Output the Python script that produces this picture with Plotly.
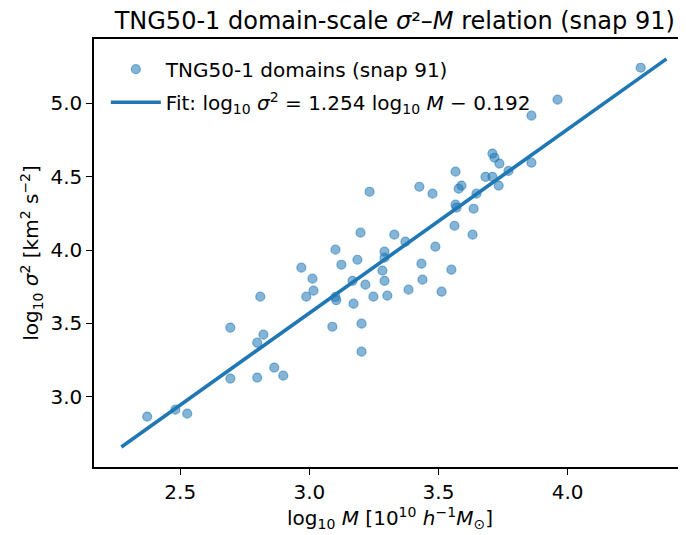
import plotly.graph_objects as go

# ---- data ----
log_mass = [2.372, 2.481, 2.527, 2.694, 2.694, 2.798, 2.798, 2.810, 2.822, 2.864,
            2.899, 2.969, 2.988, 3.012, 3.016, 3.089, 3.101, 3.101, 3.104, 3.124,
            3.167, 3.171, 3.186, 3.198, 3.202, 3.202, 3.217, 3.233, 3.248, 3.283,
            3.291, 3.291, 3.291, 3.302, 3.329, 3.372, 3.384, 3.426, 3.434, 3.438,
            3.477, 3.488, 3.512, 3.550, 3.562, 3.566, 3.566, 3.570, 3.578, 3.589,
            3.632, 3.636, 3.647, 3.682, 3.709, 3.717, 3.709, 3.733, 3.736, 3.771,
            3.860, 3.860, 3.961, 4.283]
log_sigma2 = [2.864, 2.911, 2.884, 3.123, 3.471, 3.130, 3.368, 3.682, 3.423, 3.198,
              3.143, 3.880, 3.682, 3.805, 3.723, 3.477, 4.003, 3.680, 3.658, 3.900,
              3.790, 3.634, 3.934, 4.119, 3.498, 3.307, 3.764, 4.398, 3.682, 3.860,
              3.989, 3.948, 3.790, 3.689, 4.105, 4.057, 3.730, 4.432, 3.907, 3.798,
              4.385, 4.023, 3.716, 3.866, 4.166, 4.535, 4.310, 4.290, 4.419, 4.440,
              4.105, 4.282, 4.385, 4.500, 4.658, 4.630, 4.500, 4.440, 4.590, 4.540,
              4.596, 4.917, 5.026, 5.244]
fit_slope = 1.254
fit_intercept = -0.192
x_ticks = [2.5, 3.0, 3.5, 4.0]
y_ticks = [3.0, 3.5, 4.0, 4.5, 5.0]

BLUE = "#1f77b4"
FONT = "DejaVu Sans, Verdana, sans-serif"
FS = 20

fit_x = [min(log_mass) - 0.1, max(log_mass) + 0.1]
fit_y = [fit_slope * v + fit_intercept for v in fit_x]

fig = go.Figure()
fig.add_trace(go.Scatter(
    x=log_mass, y=log_sigma2, mode="markers",
    name="TNG50-1 domains (snap 91)", legendgroup="a",
    marker=dict(size=9, color="rgba(31,119,180,0.55)",
                line=dict(color="rgba(31,119,180,0.55)", width=1.2)),
))
fig.add_trace(go.Scatter(
    x=fit_x, y=fit_y, mode="lines",
    name="Fit: log<sub>10</sub> <i>σ</i><sup>2</sup> = 1.254 log<sub>10</sub> <i>M</i> − 0.192",
    legendgroup="b",
    line=dict(color=BLUE, width=3.6),
))

# the page body has an 8px default margin, so the figure is drawn 8px in
W, H = 678, 527
ml, mr, mt, mb = 86, 0, 31, 68

fig.update_layout(
    width=W, height=H,
    margin=dict(l=ml, r=mr, t=mt, b=mb, pad=0),
    paper_bgcolor="white", plot_bgcolor="white",
    font=dict(family=FONT, size=FS, color="black"),
    title=dict(
        text="TNG50-1 domain-scale <i>σ</i>²–<i>M</i> relation (snap 91)",
        font=dict(size=24, family=FONT, color="black"),
        xref="paper", x=0.508, xanchor="center",
        yref="container", y=1 - 13 / H, yanchor="middle",
    ),
    showlegend=True,
    legend=dict(
        x=0.02, y=0.975, xanchor="left", yanchor="top",
        bgcolor="rgba(0,0,0,0)", borderwidth=0,
        font=dict(size=FS, family=FONT, color="black"),
        itemwidth=50, tracegroupgap=4,
    ),
    xaxis=dict(
        range=[2.166, 4.4585], tickvals=x_ticks, ticktext=[f"{v:.1f}" for v in x_ticks],
        showgrid=False, zeroline=False, automargin=False,
        showline=True, linecolor="black", linewidth=1.5, mirror=True,
        ticks="outside", ticklen=6, tickwidth=1.3, tickcolor="black",
        tickfont=dict(size=FS, family=FONT, color="black"),
        title=dict(text="log<sub>10</sub> <i>M</i> [10<sup>10</sup> <i>h</i><sup>−1</sup><i>M</i><sub>⊙</sub>]",
                   font=dict(size=FS, family=FONT, color="black"), standoff=6),
    ),
    yaxis=dict(
        range=[2.52, 5.44], tickvals=y_ticks, ticktext=[f"{v:.1f}" for v in y_ticks],
        showgrid=False, zeroline=False, automargin=False,
        showline=True, linecolor="black", linewidth=1.5, mirror=False,
        ticks="outside", ticklen=6, tickwidth=1.3, tickcolor="black",
        tickfont=dict(size=FS, family=FONT, color="black"),
        title=dict(text="log<sub>10</sub> <i>σ</i><sup>2</sup> [km<sup>2</sup> s<sup>−2</sup>]",
                   font=dict(size=FS, family=FONT, color="black"), standoff=6),
    ),
)

fig.write_html("out.html")
